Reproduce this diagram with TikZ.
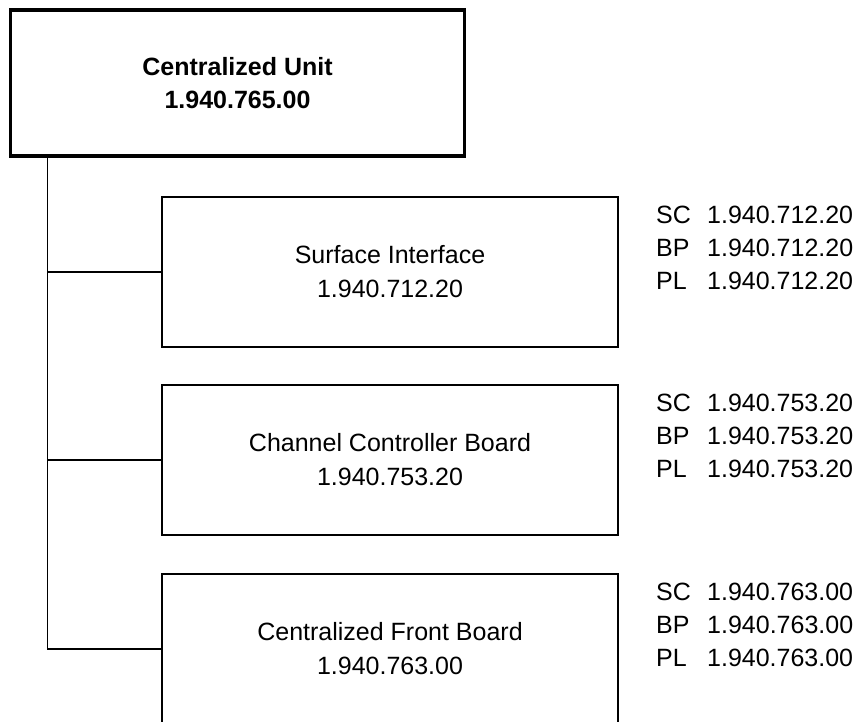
\documentclass[tikz,border=0pt]{standalone}
\usepackage{fontspec}
\setmainfont{Liberation Sans}
\newcommand\partrow[2]{\makebox[51pt][l]{#1}#2}

\begin{document}
\begin{tikzpicture}[x=1pt,y=-1pt,every node/.style={text=black},
  unitbox/.style={draw,line width=3.5pt,minimum width=454pt,minimum height=146pt,align=center,font=\fontsize{25}{33}\selectfont\bfseries},
  boardbox/.style={draw,line width=1.6pt,minimum width=456pt,minimum height=150pt,align=center,font=\fontsize{25}{34}\selectfont},
  partnos/.style={anchor=north west,inner sep=0pt,align=left,font=\fontsize{25}{33}\selectfont},
  link/.style={line width=1.6pt}]
\useasboundingbox (0,0) rectangle (859,722);
\clip (0,0) rectangle (859,722);
% the unit on top
\node[unitbox] (cu) at (237.5,83) {Centralized Unit\\1.940.765.00};
% the three boards inside it
\node[boardbox] (si) at (390,272) {Surface Interface\\1.940.712.20};
\node[boardbox] (ccb) at (390,460) {Channel Controller Board\\1.940.753.20};
\node[boardbox] (cfb) at (390,649) {Centralized Front Board\\1.940.763.00};
% SC / BP / PL numbers beside each board
\node[partnos] (siparts) at (656,206) {\partrow{SC}{1.940.712.20}\\\partrow{BP}{1.940.712.20}\\\partrow{PL}{1.940.712.20}};
\node[partnos] (ccbparts) at (656,394) {\partrow{SC}{1.940.753.20}\\\partrow{BP}{1.940.753.20}\\\partrow{PL}{1.940.753.20}};
\node[partnos] (cfbparts) at (656,583) {\partrow{SC}{1.940.763.00}\\\partrow{BP}{1.940.763.00}\\\partrow{PL}{1.940.763.00}};
% tree lines
\coordinate (trunk) at (47.5,0);
\draw[link] (cu.south -| trunk) |- (cfb.west);
\draw[link] (trunk |- si.west) -- (si.west);
\draw[link] (trunk |- ccb.west) -- (ccb.west);
\end{tikzpicture}
\end{document}
